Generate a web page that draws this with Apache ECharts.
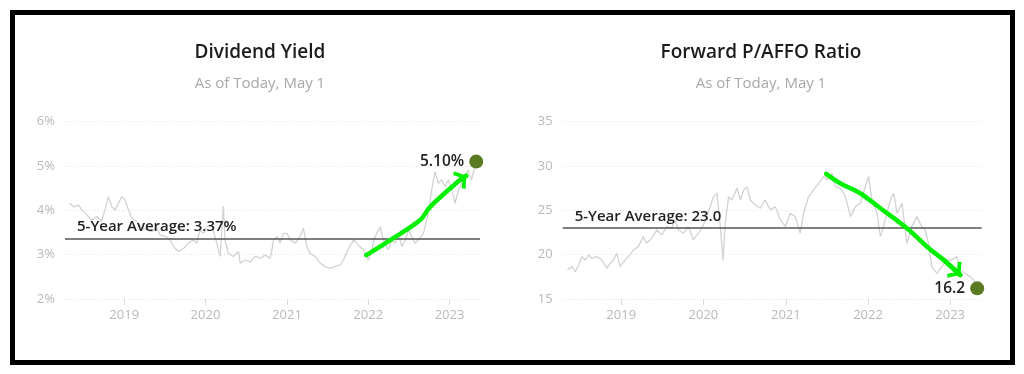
<!DOCTYPE html>
<html>
<head>
<meta charset="utf-8">
<script src="https://cdn.jsdelivr.net/npm/echarts@6/dist/echarts.min.js"></script>
<style>
html,body{margin:0;padding:0;background:#fff;}
#c{width:1024px;height:374px;}
</style>
</head>
<body>
<div id="c"></div>
<script>
// ---------- Data ----------
const yieldDates = ['2018-05-01','2018-05-19','2018-06-10','2018-06-25','2018-07-17','2018-08-08','2018-08-31','2018-09-22','2018-10-22','2018-11-06','2018-11-21','2018-12-06','2018-12-21','2019-01-05','2019-01-20','2019-02-04','2019-02-27','2019-03-21','2019-04-13','2019-05-05','2019-05-28','2019-06-12','2019-07-04','2019-07-27','2019-08-11','2019-09-02','2019-09-24','2019-10-16','2019-11-08','2019-11-23','2019-12-08','2019-12-23','2020-01-07','2020-01-29','2020-02-21','2020-03-07','2020-03-21','2020-03-29','2020-04-13','2020-05-05','2020-05-28','2020-06-05','2020-06-27','2020-07-20','2020-08-11','2020-09-03','2020-09-25','2020-10-18','2020-11-02','2020-11-17','2020-12-01','2020-12-16','2021-01-01','2021-01-16','2021-02-08','2021-03-01','2021-03-16','2021-03-31','2021-04-15','2021-05-07','2021-05-30','2021-06-21','2021-07-14','2021-08-05','2021-08-28','2021-09-12','2021-10-04','2021-10-27','2021-11-10','2021-11-25','2021-12-10','2022-01-02','2022-01-17','2022-02-01','2022-02-24','2022-03-10','2022-04-01','2022-04-16','2022-05-02','2022-05-17','2022-06-01','2022-06-16','2022-07-01','2022-07-15','2022-07-30','2022-08-14','2022-09-06','2022-09-28','2022-10-13','2022-10-28','2022-11-12','2022-11-27','2022-12-12','2022-12-27','2023-01-11','2023-01-26','2023-02-10','2023-02-25','2023-03-12','2023-03-26','2023-04-10','2023-04-25','2023-05-01'];
const yieldValues = [4.16,4.08,4.12,4.01,3.90,3.78,3.86,3.75,4.31,4.08,4.01,4.16,4.31,4.23,4.01,3.82,3.75,3.60,3.56,3.52,3.60,3.44,3.41,3.33,3.18,3.07,3.14,3.26,3.33,3.26,3.56,3.48,3.63,3.67,3.26,2.96,4.10,3.33,3.03,2.96,3.07,2.81,2.88,2.84,2.96,2.92,2.99,2.92,3.33,3.41,3.26,3.48,3.48,3.33,3.26,3.41,3.60,3.18,3.03,2.96,2.81,2.73,2.69,2.73,2.77,2.88,3.14,3.33,3.26,3.18,3.11,2.88,3.11,3.41,3.63,3.33,3.11,3.33,3.26,3.48,3.18,3.33,3.56,3.41,3.26,3.33,3.48,3.93,4.46,4.87,4.61,4.69,4.54,4.69,4.46,4.16,4.46,4.61,4.76,4.91,4.69,4.99,5.10];
const yieldAverage = 3.37;
const yieldArrowDates = ['2021-12-23','2022-04-10','2022-08-22','2022-10-06','2023-02-18','2023-03-17'];
const yieldArrowValues = [2.99,3.33,3.78,4.08,4.69,4.78];

const paffoDates = ['2018-05-07','2018-05-27','2018-06-11','2018-06-26','2018-07-10','2018-07-25','2018-08-09','2018-08-23','2018-09-15','2018-10-07','2018-10-29','2018-11-13','2018-11-27','2018-12-12','2018-12-27','2019-01-11','2019-02-02','2019-02-24','2019-03-18','2019-04-09','2019-04-24','2019-05-16','2019-06-08','2019-06-30','2019-07-22','2019-08-13','2019-08-28','2019-09-12','2019-10-04','2019-10-26','2019-11-18','2019-12-09','2020-01-01','2020-01-16','2020-01-31','2020-02-15','2020-03-01','2020-03-16','2020-03-28','2020-04-07','2020-04-22','2020-05-07','2020-05-29','2020-06-13','2020-06-28','2020-07-12','2020-07-27','2020-08-18','2020-09-09','2020-10-01','2020-10-24','2020-11-15','2020-12-08','2020-12-30','2021-01-21','2021-02-12','2021-03-06','2021-03-21','2021-04-12','2021-05-05','2021-05-27','2021-06-18','2021-07-03','2021-07-25','2021-08-09','2021-08-31','2021-09-23','2021-10-15','2021-11-06','2021-11-28','2021-12-20','2022-01-04','2022-01-18','2022-02-10','2022-02-25','2022-03-19','2022-04-10','2022-04-25','2022-05-10','2022-06-01','2022-06-23','2022-07-15','2022-08-06','2022-08-28','2022-09-12','2022-09-27','2022-10-11','2022-11-03','2022-11-25','2022-12-17','2023-01-08','2023-01-30','2023-02-14','2023-03-08','2023-03-30','2023-04-14','2023-05-01'];
const paffoValues = [18.27,18.65,18.08,18.84,19.78,19.40,19.97,19.59,19.78,19.40,18.46,19.03,19.40,20.15,18.65,19.21,19.78,20.53,20.91,22.04,21.28,21.85,22.79,22.22,23.16,22.98,23.92,22.79,22.41,23.16,21.66,22.41,23.35,24.29,25.42,26.55,26.93,23.16,19.40,23.54,26.55,26.17,27.49,26.17,27.30,27.68,26.17,25.61,25.23,26.17,25.05,25.42,23.92,23.16,24.67,24.29,22.41,24.67,26.55,27.30,28.05,28.81,28.43,29.18,27.68,27.49,26.55,24.29,25.42,25.80,27.68,28.81,26.17,24.67,22.04,23.92,26.17,26.93,24.67,25.80,21.28,23.16,24.29,23.16,22.79,21.28,18.65,17.90,18.65,19.40,19.40,19.78,18.27,17.90,17.52,17.14,16.20];
const paffoAverage = 23.0;
const paffoArrowDates = ['2021-06-29','2021-08-30','2021-11-27','2022-02-25','2022-06-23','2022-09-20','2022-12-03','2023-02-15'];
const paffoArrowValues = [29.11,28.06,26.93,25.24,22.98,20.90,19.40,17.71];

const titles = ['Dividend Yield', 'Forward P/AFFO Ratio'];
const subtitle = 'As of Today, May 1';
const yieldTicks = [2, 6, 1];   // min, max, interval
const paffoTicks = [15, 35, 5];

// ---------- Helpers ----------
const zip = (a, b) => a.map((d, i) => [d, b[i]]);
const FONT = 'Open Sans';
const GRAY_LINE = '#d2d2d2';
const GREEN = '#00f000';
const DOT = '#5a7b22';
const chevron = 'path://M8,0 L8.01,0 Z M8,8 L16,14 L14,16.2 L8,11.6 L2,16.2 L0,14 Z';

function xAxis(idx, min, max) {
  return {
    type: 'time', gridIndex: idx, min: min, max: max,
    minInterval: 365 * 24 * 3600 * 1000,
    axisLine: { show: false },
    axisTick: { show: true, length: 6, lineStyle: { color: '#dcdcdc' } },
    axisLabel: { color: '#b9b9b9', fontSize: 13, fontFamily: FONT, margin: 10,
      formatter: v => String(new Date(v).getFullYear()) },
    splitLine: { show: false }
  };
}
function yAxis(idx, ticks, suffix) {
  return {
    type: 'value', gridIndex: idx, min: ticks[0], max: ticks[1], interval: ticks[2],
    axisLine: { show: false }, axisTick: { show: false },
    axisLabel: { color: '#b9b9b9', fontSize: 13, fontFamily: FONT, margin: 10,
      formatter: v => v + suffix },
    splitLine: { show: true, lineStyle: { color: '#e2e2e2', type: [1, 2], width: 1 } }
  };
}
function graySeries(idx, dates, values, avg, avgText) {
  return {
    type: 'line', xAxisIndex: idx, yAxisIndex: idx, data: zip(dates, values),
    symbol: 'none', lineStyle: { color: GRAY_LINE, width: 1.3 }, z: 2, silent: true,
    markLine: {
      silent: true, symbol: 'none', animation: false,
      lineStyle: { color: '#555', width: 1.5, type: 'solid' },
      data: [{ yAxis: avg }],
      label: { show: true, position: 'insideStartTop', distance: [12, 4],
        formatter: avgText, color: '#222', fontSize: 15, fontWeight: 600, fontFamily: FONT }
    }
  };
}
function arrowSeries(idx, dates, values) {
  const pts = zip(dates, values);
  return [{
    type: 'line', xAxisIndex: idx, yAxisIndex: idx, data: pts, smooth: 0.35,
    symbol: 'none', lineStyle: { color: GREEN, width: 4.5, cap: 'round', join: 'round' }, z: 5, silent: true
  }, {
    type: 'lines', coordinateSystem: 'cartesian2d', xAxisIndex: idx, yAxisIndex: idx, z: 6, silent: true,
    symbol: ['none', chevron], symbolSize: [21, 21],
    lineStyle: { color: GREEN, width: 4.5, opacity: 1, cap: 'round' },
    itemStyle: { color: GREEN },
    data: [{ coords: [pts[pts.length - 2], pts[pts.length - 1]] }]
  }];
}
function dotSeries(idx, date, value, text) {
  return {
    type: 'scatter', xAxisIndex: idx, yAxisIndex: idx, z: 7, silent: true,
    data: [[date, value]], symbolSize: 14, itemStyle: { color: DOT, opacity: 1 },
    label: { show: true, position: 'left', distance: 5, formatter: text,
      color: '#222', fontSize: 15.5, fontWeight: 600, fontFamily: FONT }
  };
}

const lastY = yieldValues[yieldValues.length - 1];
const lastP = paffoValues[paffoValues.length - 1];

const titleBase = {
  subtext: subtitle, top: 43, textAlign: 'center', padding: 0, itemGap: 12,
  textStyle: { fontSize: 19, fontWeight: 600, color: '#1c1c1c', fontFamily: FONT, lineHeight: 20 },
  subtextStyle: { fontSize: 15, color: '#a8a8a8', fontFamily: FONT, lineHeight: 17 }
};

const option = {
  animation: false,
  backgroundColor: '#fff',
  textStyle: { fontFamily: FONT },
  title: [
    Object.assign({}, titleBase, { text: titles[0], left: 260 }),
    Object.assign({}, titleBase, { text: titles[1], left: 761 })
  ],
  grid: [
    { left: 65, right: 544, top: 121.7, bottom: 75, containLabel: false },
    { left: 562.7, right: 42.3, top: 121.7, bottom: 75, containLabel: false }
  ],
  xAxis: [ xAxis(0, '2018-04-10', '2023-05-18'), xAxis(1, '2018-04-16', '2023-05-21') ],
  yAxis: [ yAxis(0, yieldTicks, '%'), yAxis(1, paffoTicks, '') ],
  series: [
    graySeries(0, yieldDates, yieldValues, yieldAverage, '5-Year Average: ' + yieldAverage.toFixed(2) + '%'),
    graySeries(1, paffoDates, paffoValues, paffoAverage, '5-Year Average: ' + paffoAverage.toFixed(1)),
    ...arrowSeries(0, yieldArrowDates, yieldArrowValues),
    ...arrowSeries(1, paffoArrowDates, paffoArrowValues),
    dotSeries(0, yieldDates[yieldDates.length - 1], lastY, lastY.toFixed(2) + '%'),
    dotSeries(1, paffoDates[paffoDates.length - 1], lastP, lastP.toFixed(1))
  ],
  graphic: [
    { type: 'rect', shape: { x: 12.5, y: 12.5, width: 1000, height: 350 },
      style: { fill: 'none', stroke: '#000', lineWidth: 5 }, z: 100, silent: true }
  ]
};

const chart = echarts.init(document.getElementById('c'), null, { renderer: 'canvas' });
chart.setOption(option);
</script>
</body>
</html>
